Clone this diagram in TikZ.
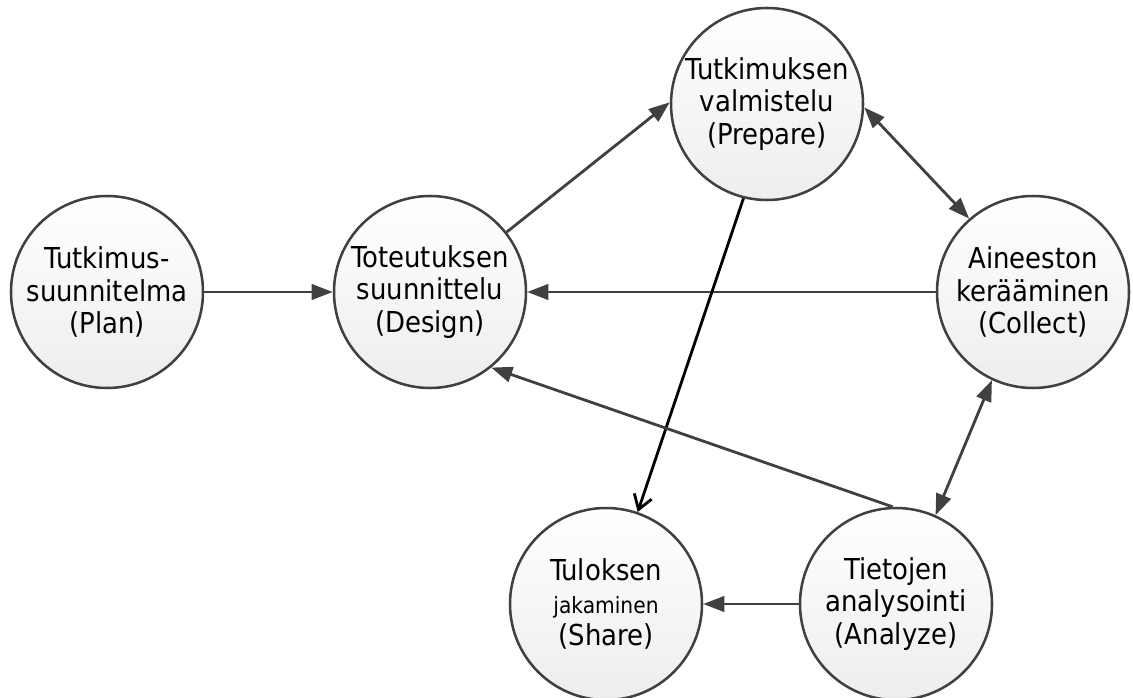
\documentclass[tikz,border=0pt]{standalone}
\usepackage{fontspec}
\setmainfont{DejaVu Sans Condensed}
\usetikzlibrary{arrows.meta}

\definecolor{edgegray}{HTML}{404040}
\tikzset{phase/.style={circle,draw=edgegray,line width=1.8pt,minimum size=4.8cm,inner sep=0pt,
    top color=white,bottom color=black!7,align=center,
    font=\fontsize{20.5}{23}\selectfont}}
\tikzset{flow/.style={-{Triangle[length=15pt,width=11pt]},draw=edgegray,fill=edgegray,line width=2pt}}
\tikzset{twoway/.style={{Triangle[length=15pt,width=11pt]}-{Triangle[length=15pt,width=11pt]},draw=edgegray,fill=edgegray,line width=2pt}}
\tikzset{sharearrow/.style={-{Straight Barb[length=10pt,width=13pt]},black,line width=2pt}}

\begin{document}
\begin{tikzpicture}
        \useasboundingbox (0,0) rectangle (28.325,17.425);
        % draw the phases
        \node[phase] (plan) at (2.675,10.125) {Tutkimus-\\suunnitelma\\(Plan)};
        \node[phase] (design) at (10.75,10.125) {Toteutuksen\\suunnittelu\\(Design)};
        \node[phase] (prepare) at (19.175,14.825) {Tutkimuksen\\valmistelu\\(Prepare)};
        \node[phase] (collect) at (25.825,10.125) {Aineeston\\kerääminen\\(Collect)};
        \node[phase] (share) at (15.15,2.325) {Tuloksen\\{\fontsize{16}{23}\selectfont jakaminen}\\(Share)};
        \node[phase] (analyze) at (22.4,2.325) {Tietojen\\analysointi\\(Analyze)};

        % draw the connections
        \draw[flow] (plan) -- (design);
        \draw[flow] (design.38) -- (prepare.179);
        \draw[twoway] (prepare.-2) -- (collect.131);
        \draw[flow] (collect) -- (design);
        \draw[sharearrow] (prepare.-104) -- (share.71);
        \draw[flow] (analyze.92) -- (design.-51);
        \draw[twoway] (analyze.66) -- (collect.-115);
        \draw[flow] (analyze) -- (share);
    \end{tikzpicture}
\end{document}
